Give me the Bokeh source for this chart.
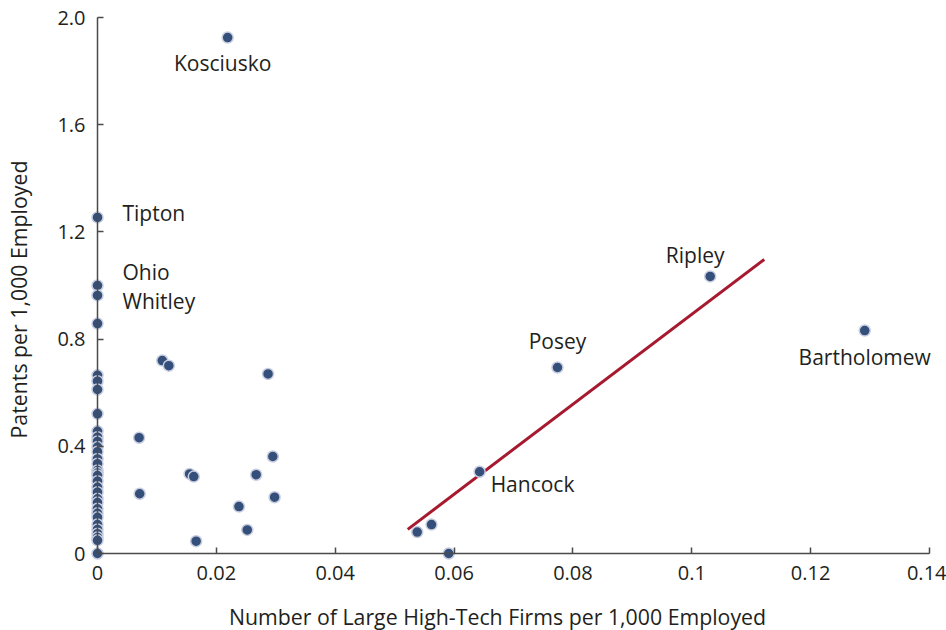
import math
from bokeh.plotting import figure
from bokeh.models import Range1d, FixedTicker, ColumnDataSource, LinearAxis, Label
from bokeh.core.properties import value
from bokeh.embed import file_html
from bokeh.resources import INLINE

# Labeled counties
label_names = ["Kosciusko", "Tipton", "Ohio", "Whitley", "Posey", "Ripley", "Bartholomew", "Hancock"]
label_x = [0.0219, 0.0, 0.0, 0.0, 0.0774, 0.1031, 0.1291, 0.0643]
label_y = [1.925, 1.254, 1.0, 0.963, 0.694, 1.034, 0.832, 0.305]
label_dx = [-5, 25, 25, 25, 0, -15, 0, 11]
label_dy = [25, -4, -14, 6, -27, -21, 26, 12]
label_align = ["center", "left", "left", "left", "center", "center", "center", "left"]

# Unlabeled counties with no large high-tech firms
zero_y = [0.858, 0.665, 0.643, 0.612, 0.521, 0.456, 0.434, 0.418, 0.397, 0.38,
          0.353, 0.335, 0.31, 0.30, 0.291, 0.27, 0.247, 0.229, 0.204, 0.19,
          0.167, 0.15, 0.135, 0.108, 0.09, 0.074, 0.06, 0.049, 0.0]

# Other unlabeled counties
other_x = [0.0109, 0.0120, 0.0287, 0.0070, 0.0295, 0.0155, 0.0162, 0.0267, 0.0071,
           0.0298, 0.0238, 0.0252, 0.0166, 0.0538, 0.0562, 0.0591]
other_y = [0.720, 0.701, 0.670, 0.432, 0.362, 0.297, 0.287, 0.294, 0.223,
           0.210, 0.175, 0.088, 0.046, 0.080, 0.108, 0.0]

# Fitted line end points
fit_x = [0.0522, 0.1122]
fit_y = [0.090, 1.097]

x_ticks = [0, 0.02, 0.04, 0.06, 0.08, 0.1, 0.12, 0.14]
x_tick_labels = ["0", "0.02", "0.04", "0.06", "0.08", "0.1", "0.12", "0.14"]
y_ticks = [0, 0.4, 0.8, 1.2, 1.6, 2.0]
y_tick_labels = ["0", "0.4", "0.8", "1.2", "1.6", "2.0"]

x_title = "Number of Large High-Tech Firms per 1,000 Employed"
y_title = "Patents per 1,000 Employed"

FONT = "Open Sans"
TEXT_COLOR = "#231f20"
AXIS_COLOR = "#4a4a4a"

# Layout (pixels): the plot frame covers the whole canvas; axes sit at zero
W, H = 946, 630
AX_LEFT, AX_RIGHT, AX_TOP, AX_BOTTOM = 97, 929, 17, 553
x_lo, x_hi = x_ticks[0], x_ticks[-1]
y_lo, y_hi = y_ticks[0], y_ticks[-1]
xu = (x_hi - x_lo) / (AX_RIGHT - AX_LEFT)
yu = (y_hi - y_lo) / (AX_BOTTOM - AX_TOP)

p = figure(width=W, height=H, output_backend="svg", toolbar_location=None,
           x_axis_location=None, y_axis_location=None, min_border=0,
           x_range=Range1d(x_lo - AX_LEFT * xu, x_hi + (W - AX_RIGHT) * xu),
           y_range=Range1d(y_lo - (H - AX_BOTTOM) * yu, y_hi + AX_TOP * yu))
p.outline_line_color = None
p.grid.visible = False
p.background_fill_color = "white"
p.border_fill_color = "white"


def make_axis(ticks, labels, standoff):
    ax = LinearAxis(ticker=FixedTicker(ticks=ticks), fixed_location=0,
                    bounds=(ticks[0], ticks[-1]))
    ax.major_label_overrides = {t: l for t, l in zip(ticks, labels)}
    ax.axis_line_color = AXIS_COLOR
    ax.axis_line_width = 1.5
    ax.major_tick_line_color = AXIS_COLOR
    ax.major_tick_line_width = 1.5
    ax.major_tick_in = 6
    ax.major_tick_out = 0
    ax.minor_tick_line_color = None
    ax.major_label_text_font = FONT
    ax.major_label_text_font_size = "20px"
    ax.major_label_text_color = TEXT_COLOR
    ax.major_label_standoff = standoff
    return ax


p.add_layout(make_axis(x_ticks, x_tick_labels, 12), "below")
p.add_layout(make_axis(y_ticks, y_tick_labels, 12), "left")

# Axis titles, placed relative to the axes' origin
p.add_layout(Label(x=0, y=0, x_offset=400, y_offset=-63, text=x_title,
                   text_align="center", text_baseline="middle",
                   text_font=FONT, text_font_size="21.3px", text_color=TEXT_COLOR))
p.add_layout(Label(x=0, y=0, x_offset=-79, y_offset=254, text=y_title, angle=math.pi / 2,
                   text_align="center", text_baseline="middle",
                   text_font=FONT, text_font_size="21.3px", text_color=TEXT_COLOR))

p.line(fit_x, fit_y, line_color="#a6192e", line_width=3)

marker = dict(size=11, fill_color="#34507a", line_color="#c8cde0", line_width=1.5)
p.scatter([0.0] * len(zero_y), zero_y, **marker)
p.scatter(other_x, other_y, **marker)
p.scatter(label_x, label_y, **marker)

src = ColumnDataSource(dict(x=label_x, y=label_y, t=label_names, dx=label_dx, dy=label_dy, al=label_align))
p.text(x="x", y="y", text="t", x_offset="dx", y_offset="dy", text_align="al",
       text_baseline="middle", text_font=value(FONT), text_font_size="21px",
       text_color=TEXT_COLOR, source=src)

open("out.html", "w").write(file_html(p, INLINE))
